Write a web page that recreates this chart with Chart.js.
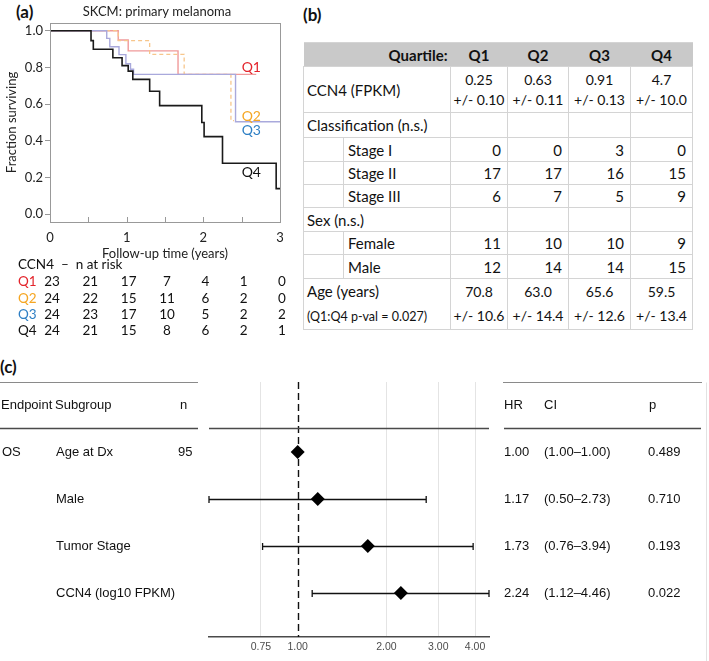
<!DOCTYPE html>
<html>
<head>
<meta charset="utf-8">
<script src="https://cdn.jsdelivr.net/npm/chart.js@4.4.1/dist/chart.umd.min.js"></script>
<style>
  html, body { margin: 0; padding: 0; background: #fff; }
  body { width: 709px; height: 661px; position: relative; overflow: hidden; font-family: Lato, sans-serif; color: #111; }
  .plabel { position: absolute; font-weight: bold; font-size: 17px; line-height: 20px; }
  .fontwarm { position: absolute; left: -999px; top: 0; font-family: "Liberation Sans"; font-size: 10px; }
  #kmBox { position: absolute; left: 0; top: 0; width: 300px; height: 345px; }
  #forestBox { position: absolute; left: 0; top: 375px; width: 709px; height: 286px; }
  #tbl { position: absolute; left: 303px; top: 42px; border-collapse: collapse; table-layout: fixed; width: 390px; }
  #tbl td { border: 1px solid #d4d4d4; padding: 0 3px; font-size: 15px; white-space: nowrap; overflow: hidden; vertical-align: middle; }
  #tbl tr.hd td { background: #c9c9c9; font-weight: bold; border-left: none; border-right: none; text-align: center; }
  #tbl tr.hd td.qlab { text-align: right; }
  #tbl td.num { text-align: right; padding-right: 6px; }
  #tbl td.mean { text-align: center; font-size: 14px; line-height: 20px; padding: 0; }
  #tbl td.mean.age { line-height: 24px; }
  #tbl td.sub { padding-left: 4px; }
  #tbl .small { font-size: 12.5px; }
</style>
</head>
<body>
<div class="fontwarm">Endpoint 0.75</div>
<div class="plabel" style="left:16px;top:2px;">(a)</div>
<div class="plabel" style="left:303px;top:5px;">(b)</div>
<div class="plabel" style="left:0px;top:357px;">(c)</div>

<div id="kmBox"><canvas id="km"></canvas></div>
<table id="tbl"></table>
<div id="forestBox"><canvas id="forest"></canvas></div>

<script>
// ---- (a) survival curves ----
const q1Time = [0, 0.89, 1.02, 1.67, 2.69];
const q1Surv = [1, 0.949, 0.89, 0.762, 0.762];
const q2Time = [0, 0.89, 1.30, 1.75, 2.36, 2.40];
const q2Surv = [1, 0.946, 0.871, 0.762, 0.51, 0.51];
const q3Time = [0, 0.74, 0.78, 0.90, 0.99, 1.05, 1.09, 2.42, 3.0];
const q3Surv = [1, 0.958, 0.913, 0.87, 0.82, 0.79, 0.762, 0.504, 0.504];
const q4Time = [0, 0.535, 0.565, 0.82, 0.94, 1.02, 1.08, 1.30, 1.43, 1.98, 2.01, 2.25, 2.95, 3.0];
const q4Surv = [1, 0.946, 0.899, 0.853, 0.81, 0.78, 0.735, 0.67, 0.592, 0.50, 0.423, 0.278, 0.14, 0.14];

const kmXTicks = [0, 0.5, 1, 1.5, 2, 2.5, 3];
const kmYTicks = [0, 0.2, 0.4, 0.6, 0.8, 1.0];

// n at risk
const riskTimes = [0, 0.5, 1, 1.5, 2, 2.5, 3];
const riskQ1 = [23, 21, 17, 7, 4, 1, 0];
const riskQ2 = [24, 22, 15, 11, 6, 2, 0];
const riskQ3 = [24, 23, 17, 10, 5, 2, 2];
const riskQ4 = [24, 21, 15, 8, 6, 2, 1];

// ---- (b) table ----
const quartiles = ["Q1", "Q2", "Q3", "Q4"];
const ccn4Mean = ["0.25", "0.63", "0.91", "4.7"];
const ccn4Sd = ["0.10", "0.11", "0.13", "10.0"];
const stageI = [0, 0, 3, 0];
const stageII = [17, 17, 16, 15];
const stageIII = [6, 7, 5, 9];
const female = [11, 10, 10, 9];
const male = [12, 14, 14, 15];
const ageMean = ["70.8", "63.0", "65.6", "59.5"];
const ageSd = ["10.6", "14.4", "12.6", "13.4"];

// ---- (c) forest plot ----
const subgroups = ["Age at Dx", "Male", "Tumor Stage", "CCN4 (log10 FPKM)"];
const hr = [1.00, 1.17, 1.73, 2.24];
const ciLow = [1.00, 0.50, 0.76, 1.12];
const ciHigh = [1.00, 2.73, 3.94, 4.46];
const pVals = ["0.489", "0.710", "0.193", "0.022"];
const nText = ["95", "", "", ""];
const forestTicks = [0.75, 1, 2, 3, 4];

const qText = ["#e3242b", "#f5a623", "#2e7fc4", "#111111"];
const qLine = ["#f09a9a", "#f7c68c", "#a9a9dc", "#1a1a1a"];

const HELV = '"Liberation Sans", Arial, Helvetica, sans-serif';

Chart.defaults.font.family = "Lato";
Chart.defaults.color = "#222";

function pts(t, s) { return t.map((v, i) => ({ x: v, y: s[i] })); }

// frame, inward x ticks, title, curve labels and the risk table
const kmExtras = {
  id: "kmExtras",
  afterDraw(chart) {
    const { ctx, chartArea: a, scales: { x, y } } = chart;
    ctx.save();
    ctx.strokeStyle = "#999";
    ctx.lineWidth = 1;
    ctx.strokeRect(Math.round(a.left) + 0.5, Math.round(a.top) + 0.5,
      Math.round(a.right - a.left), Math.round(a.bottom - a.top));
    kmXTicks.forEach(v => {
      const px = Math.round(x.getPixelForValue(v)) + 0.5;
      ctx.beginPath();
      ctx.moveTo(px, a.bottom);
      ctx.lineTo(px, a.bottom - 5);
      ctx.stroke();
    });

    ctx.textBaseline = "middle";
    ctx.textAlign = "center";
    ctx.fillStyle = "#222";
    ctx.font = "13px Lato";
    ctx.fillText("SKCM: primary melanoma", 157, 12);

    const labY = [0.797, 0.535, 0.454, 0.23];
    ctx.textAlign = "left";
    ctx.font = "14px Lato";
    quartiles.forEach((q, i) => {
      ctx.fillStyle = qText[i];
      ctx.fillText(q, x.getPixelForValue(2.5), y.getPixelForValue(labY[i]));
    });

    ctx.font = "13.5px Lato";
    ctx.fillStyle = "#111";
    ctx.fillText("CCN4  \u2013  n at risk", 18, 265);
    const rows = [riskQ1, riskQ2, riskQ3, riskQ4];
    rows.forEach((row, r) => {
      const py = 282 + r * 16.3;
      ctx.textAlign = "left";
      ctx.fillStyle = qText[r];
      ctx.fillText(quartiles[r], 18, py);
      ctx.textAlign = "center";
      ctx.fillStyle = "#111";
      row.forEach((n, k) => ctx.fillText(String(n), x.getPixelForValue(riskTimes[k]) + 2, py));
    });
    ctx.restore();
  }
};

new Chart(document.getElementById("km"), {
  type: "line",
  data: {
    datasets: [
      { label: "Q4", data: pts(q4Time, q4Surv), borderColor: qLine[3], borderWidth: 1.6 },
      { label: "Q3", data: pts(q3Time, q3Surv), borderColor: qLine[2], borderWidth: 1.4 },
      { label: "Q2", data: pts(q2Time, q2Surv), borderColor: qLine[1], borderWidth: 1.3, borderDash: [4, 3] },
      { label: "Q1", data: pts(q1Time, q1Surv), borderColor: qLine[0], borderWidth: 1.4 },
    ].map(d => Object.assign(d, { stepped: true, pointRadius: 0, fill: false }))
  },
  options: {
    responsive: true,
    maintainAspectRatio: false,
    animation: false,
    layout: { padding: { left: 0, top: 23, right: 20, bottom: 79 } },
    plugins: { legend: { display: false }, tooltip: { enabled: false } },
    scales: {
      x: {
        type: "linear", min: 0, max: 3,
        afterBuildTicks: s => { s.ticks = kmXTicks.map(v => ({ value: v })); },
        afterFit: s => { s.height = 44; },
        ticks: { padding: 8, font: { size: 13 }, color: "#222", maxRotation: 0, autoSkip: false,
          callback: v => (Number.isInteger(v) ? String(v) : "") },
        grid: { drawOnChartArea: false, drawTicks: false },
        border: { display: false },
        title: { display: true, text: "Follow-up time (years)", font: { size: 13 }, color: "#222", padding: 4 }
      },
      y: {
        min: -0.042, max: 1.042,
        afterBuildTicks: s => { s.ticks = kmYTicks.map(v => ({ value: v })); },
        afterFit: s => { s.width = 50; },
        ticks: { padding: 2, font: { size: 13 }, color: "#222", callback: v => Number(v).toFixed(1) },
        grid: { drawOnChartArea: false, tickLength: 5, color: "#999" },
        border: { display: false },
        title: { display: true, text: "Fraction surviving", font: { size: 13 }, color: "#222", padding: 4 }
      }
    }
  },
  plugins: [kmExtras]
});

// ---- table ----
(function buildTable() {
  const tbl = document.getElementById("tbl");
  const cg = document.createElement("colgroup");
  [40, 107, 57, 61, 62, 62].forEach(w => {
    const c = document.createElement("col");
    c.style.width = w + "px";
    cg.appendChild(c);
  });
  tbl.appendChild(cg);
  const addRow = (h, html, cls) => {
    const tr = document.createElement("tr");
    tr.style.height = h + "px";
    if (cls) tr.className = cls;
    tr.innerHTML = html;
    tbl.appendChild(tr);
  };
  addRow(24, '<td colspan="2" class="qlab">Quartile:</td>' + quartiles.map(q => "<td>" + q + "</td>").join(""), "hd");
  addRow(46, '<td colspan="2">CCN4 (FPKM)</td>' +
    ccn4Mean.map((m, i) => '<td class="mean">' + m + "<br>+/- " + ccn4Sd[i] + "</td>").join(""));
  addRow(25, '<td colspan="2">Classification (n.s.)</td><td></td><td></td><td></td><td></td>');
  const numRow = (h, label, vals) => addRow(h, '<td></td><td class="sub">' + label + "</td>" +
    vals.map(v => '<td class="num">' + v + "</td>").join(""));
  numRow(24, "Stage I", stageI);
  numRow(23, "Stage II", stageII);
  numRow(23, "Stage III", stageIII);
  addRow(24, '<td colspan="2">Sex (n.s.)</td><td></td><td></td><td></td><td></td>');
  numRow(23, "Female", female);
  numRow(24, "Male", male);
  addRow(46, '<td colspan="2" style="line-height:24px">Age (years)<br><span class="small">(Q1:Q4 p-val = 0.027)</span></td>' +
    ageMean.map((m, i) => '<td class="mean age">' + m + "<br>+/- " + ageSd[i] + "</td>").join(""));
})();

// ---- forest plot ----
const forestExtras = {
  id: "forestExtras",
  beforeDatasetsDraw(chart) {
    const { ctx, chartArea: a, scales: { x, y } } = chart;
    ctx.save();
    // reference line at HR = 1
    const x1 = Math.round(x.getPixelForValue(1)) + 0.5;
    ctx.strokeStyle = "#111";
    ctx.lineWidth = 1.4;
    ctx.setLineDash([7, 4]);
    ctx.beginPath();
    ctx.moveTo(x1, a.top);
    ctx.lineTo(x1, a.bottom);
    ctx.stroke();
    ctx.setLineDash([]);
    // confidence intervals
    ctx.lineWidth = 1.3;
    hr.forEach((v, i) => {
      if (ciLow[i] === ciHigh[i]) return;
      const py = Math.round(y.getPixelForValue(i + 1)) + 0.5;
      const l = x.getPixelForValue(ciLow[i]);
      const r = x.getPixelForValue(ciHigh[i]);
      ctx.beginPath();
      ctx.moveTo(l, py); ctx.lineTo(r, py);
      ctx.moveTo(l, py - 3.5); ctx.lineTo(l, py + 3.5);
      ctx.moveTo(r, py - 3.5); ctx.lineTo(r, py + 3.5);
      ctx.stroke();
    });
    ctx.restore();
  },
  afterDraw(chart) {
    const { ctx, chartArea: a, scales: { y } } = chart;
    ctx.save();
    // rules
    ctx.strokeStyle = "#8a8a8a";
    ctx.lineWidth = 1;
    const top = Math.round(a.top) + 0.5;
    ctx.beginPath();
    ctx.moveTo(0, top); ctx.lineTo(198, top);
    ctx.moveTo(503, top); ctx.lineTo(702, top);
    ctx.stroke();
    ctx.strokeStyle = "#e2e2e2";
    ctx.beginPath();
    ctx.moveTo(706.5, top); ctx.lineTo(706.5, chart.height);
    ctx.stroke();
    const yl = Math.round(y.getPixelForValue(0.5)) + 0.5;
    ctx.strokeStyle = "#4a4a4a";
    ctx.lineWidth = 1.5;
    ctx.beginPath();
    ctx.moveTo(0, yl); ctx.lineTo(198, yl);
    ctx.moveTo(a.left, yl); ctx.lineTo(a.right, yl);
    ctx.moveTo(504, yl); ctx.lineTo(701, yl);
    ctx.stroke();

    // text columns
    ctx.fillStyle = "#111";
    ctx.font = "13px " + HELV;
    ctx.textBaseline = "middle";
    ctx.textAlign = "left";
    const yh = y.getPixelForValue(0);
    [["Endpoint", 1], ["Subgroup", 55], ["n", 180], ["HR", 504], ["CI", 544], ["p", 649]]
      .forEach(([t, px]) => ctx.fillText(t, px, yh));
    subgroups.forEach((s, i) => {
      const py = y.getPixelForValue(i + 1);
      if (i === 0) ctx.fillText("OS", 2, py);
      ctx.fillText(s, 56, py);
      if (nText[i]) ctx.fillText(nText[i], 178, py);
      ctx.fillText(hr[i].toFixed(2), 504, py);
      ctx.fillText("(" + ciLow[i].toFixed(2) + "\u2013" + ciHigh[i].toFixed(2) + ")", 544, py);
      ctx.fillText(pVals[i], 648, py);
    });
    ctx.restore();
  }
};

new Chart(document.getElementById("forest"), {
  type: "scatter",
  data: {
    datasets: [{
      data: hr.map((v, i) => ({ x: v, y: i + 1 })),
      pointStyle: "rectRot",
      pointRadius: 7,
      backgroundColor: "#000",
      borderColor: "#000",
      borderWidth: 0
    }]
  },
  options: {
    responsive: true,
    maintainAspectRatio: false,
    animation: false,
    layout: { padding: { left: 209, right: 220, top: 7, bottom: 0 } },
    plugins: { legend: { display: false }, tooltip: { enabled: false } },
    scales: {
      x: {
        type: "logarithmic", min: 0.5, max: 4.46,
        afterBuildTicks: s => { s.ticks = forestTicks.map(v => ({ value: v })); },
        afterFit: s => { s.height = 24; },
        ticks: { autoSkip: false, maxRotation: 0, padding: 4, color: "#4d4d4d",
          font: { family: HELV, size: 10.5 }, callback: v => Number(v).toFixed(2) },
        grid: { drawTicks: false, lineWidth: 1,
          color: c => (c.tick && c.tick.value === 1 ? "rgba(0,0,0,0)" : "#e4e4e4") },
        border: { display: true, color: "#4a4a4a", width: 1.5 }
      },
      y: { type: "linear", reverse: true, min: -0.489, max: 4.937, display: false }
    }
  },
  plugins: [forestExtras]
});
</script>
</body>
</html>
